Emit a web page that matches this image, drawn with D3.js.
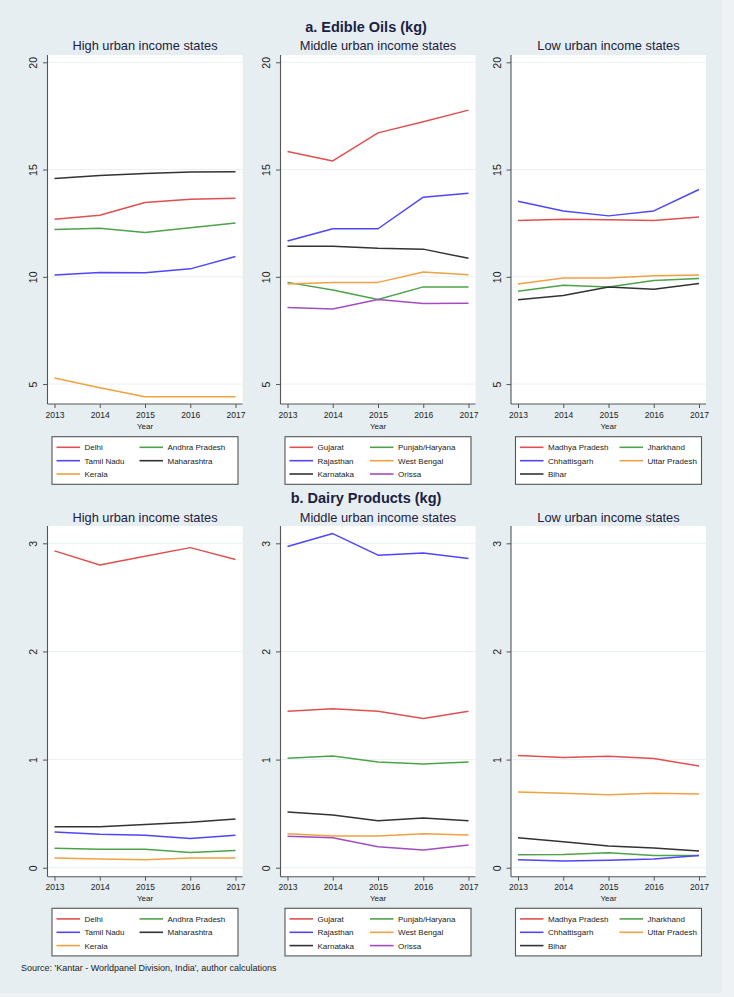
<!DOCTYPE html>
<html><head><meta charset="utf-8">
<script src="https://cdn.jsdelivr.net/npm/d3@7"></script>
<style>
body{margin:0;background:#eef2f4;}
svg{display:block;font-family:"Liberation Sans",Arial,sans-serif;}
</style>
</head><body><svg id="chart" width="734" height="997"></svg>
<script>
// ---------------- data ----------------
const years = [2013, 2014, 2015, 2016, 2017];
const groupTitles = ["High urban income states", "Middle urban income states", "Low urban income states"];
const sectionTitles = ["a. Edible Oils (kg)", "b. Dairy Products (kg)"];
const sourceNote = "Source: 'Kantar - Worldpanel Division, India', author calculations";

const highStates = ["Delhi", "Andhra Pradesh", "Tamil Nadu", "Maharashtra", "Kerala"];
const middleStates = ["Gujarat", "Punjab/Haryana", "Rajasthan", "West Bengal", "Karnataka", "Orissa"];
const lowStates = ["Madhya Pradesh", "Jharkhand", "Chhattisgarh", "Uttar Pradesh", "Bihar"];

// Edible oils (kg), rows follow the state arrays above
const oilsHigh = [
  [12.68, 12.87, 13.46, 13.61, 13.66],
  [12.21, 12.26, 12.07, 12.29, 12.51],
  [10.08, 10.20, 10.19, 10.37, 10.95],
  [14.58, 14.72, 14.81, 14.89, 14.90],
  [5.28, 4.83, 4.41, 4.41, 4.41]
];
const oilsMiddle = [
  [15.84, 15.40, 16.71, 17.23, 17.77],
  [9.74, 9.38, 8.94, 9.53, 9.52],
  [11.67, 12.24, 12.24, 13.71, 13.89],
  [9.66, 9.74, 9.74, 10.22, 10.09],
  [11.42, 11.42, 11.33, 11.29, 10.86],
  [8.57, 8.50, 8.94, 8.75, 8.77]
];
const oilsLow = [
  [12.63, 12.68, 12.66, 12.62, 12.79],
  [9.33, 9.61, 9.52, 9.83, 9.92],
  [13.52, 13.07, 12.84, 13.07, 14.07],
  [9.66, 9.94, 9.94, 10.05, 10.08],
  [8.93, 9.13, 9.52, 9.42, 9.69]
];

// Dairy products (kg)
const dairyHigh = [
  [2.93, 2.80, 2.88, 2.96, 2.85],
  [0.18, 0.17, 0.17, 0.14, 0.16],
  [0.33, 0.31, 0.30, 0.27, 0.30],
  [0.38, 0.38, 0.40, 0.42, 0.45],
  [0.09, 0.08, 0.074, 0.09, 0.09]
];
const dairyMiddle = [
  [1.447, 1.47, 1.447, 1.38, 1.447],
  [1.012, 1.034, 0.978, 0.96, 0.978],
  [2.97, 3.09, 2.89, 2.91, 2.86],
  [0.315, 0.293, 0.293, 0.315, 0.302],
  [0.515, 0.488, 0.435, 0.46, 0.435],
  [0.29, 0.278, 0.194, 0.163, 0.21]
];
const dairyLow = [
  [1.037, 1.02, 1.03, 1.01, 0.94],
  [0.12, 0.123, 0.139, 0.114, 0.114],
  [0.074, 0.062, 0.068, 0.08, 0.114],
  [0.70, 0.688, 0.675, 0.688, 0.682],
  [0.278, 0.24, 0.20, 0.182, 0.154]
];

const oilTicks = [5, 10, 15, 20];
const dairyTicks = [0, 1, 2, 3];

// ---------------- styles ----------------
const RED = "#e05050", GREEN = "#4ea24a", BLUE = "#4f45ff", BLACK = "#333333", ORANGE = "#f0a142", PURPLE = "#a24cc2";
const highColors = [RED, GREEN, BLUE, BLACK, ORANGE];
const middleColors = [RED, GREEN, BLUE, ORANGE, BLACK, PURPLE];
const lowColors = [RED, GREEN, BLUE, ORANGE, BLACK];

const groups = [
  {states: highStates, colors: highColors, left: 47.5, col2: 87.5},
  {states: middleStates, colors: middleColors, left: 280.5, col2: 85},
  {states: lowStates, colors: lowColors, left: 511, col2: 104}
];
const plotW = 195;

const sections = [
  {title: sectionTitles[0], titleY: 32, subY: 50, top: 55, bottom: 404, domain: [4.07, 20.34], ticks: oilTicks,
   data: [oilsHigh, oilsMiddle, oilsLow], yearLabelY: 418, yearTitleY: 428.5, legendTop: 436.7},
  {title: sectionTitles[1], titleY: 502.5, subY: 522, top: 526, bottom: 876.7, domain: [-0.083, 3.16], ticks: dairyTicks,
   data: [dairyHigh, dairyMiddle, dairyLow], yearLabelY: 890.5, yearTitleY: 900.5, legendTop: 908.3}
];

const svg = d3.select("#chart");
svg.append("rect").attr("x", 0).attr("y", 0).attr("width", 722).attr("height", 993).attr("fill", "#e6eef1");

const textColor = "#1c2142";

sections.forEach(sec => {
  svg.append("text").attr("x", 366).attr("y", sec.titleY).attr("text-anchor", "middle")
    .attr("font-size", "14.5px").attr("font-weight", "bold").attr("fill", textColor).text(sec.title);

  const y = d3.scaleLinear().domain(sec.domain).range([sec.bottom, sec.top]);

  groups.forEach((g, gi) => {
    const left = g.left, right = left + plotW;
    const x = d3.scaleLinear().domain([2013, 2017]).range([left + 7, right - 7]);
    const cx = (left + right) / 2;

    svg.append("text").attr("x", cx).attr("y", sec.subY).attr("text-anchor", "middle")
      .attr("font-size", "12.8px").attr("fill", textColor).text(groupTitles[gi]);

    // plot region
    svg.append("rect").attr("x", left).attr("y", sec.top).attr("width", plotW).attr("height", sec.bottom - sec.top)
      .attr("fill", "#ffffff");

    // gridlines
    svg.append("g").selectAll("line").data(sec.ticks).join("line")
      .attr("x1", left).attr("x2", right).attr("y1", d => y(d)).attr("y2", d => y(d))
      .attr("stroke", "#eaf0f3").attr("stroke-width", 1);

    // y axis
    const ya = svg.append("g").attr("transform", `translate(${left},0)`)
      .call(d3.axisLeft(y).tickValues(sec.ticks).tickSize(4.5).tickSizeOuter(0).tickFormat(d3.format("d")));
    ya.select(".domain").attr("stroke", "#555").attr("stroke-width", 1.1)
      .attr("d", `M0,${sec.top}V${sec.bottom}`);
    ya.selectAll(".tick line").attr("stroke", "#555");
    ya.selectAll(".tick text").attr("x", null).attr("dy", null).attr("text-anchor", "middle")
      .attr("transform", "translate(-10.5,0) rotate(-90)")
      .attr("font-size", "10.5px").attr("fill", "#222").attr("font-family", null);

    // x axis
    const xa = svg.append("g").attr("transform", `translate(0,${sec.bottom})`)
      .call(d3.axisBottom(x).tickValues(years).tickSize(4).tickSizeOuter(0).tickFormat(d3.format("d")));
    xa.select(".domain").attr("stroke", "#555").attr("stroke-width", 1.1).attr("d", `M${left},0H${right}`);
    xa.selectAll(".tick line").attr("stroke", "#555");
    xa.selectAll(".tick text").attr("y", sec.yearLabelY - sec.bottom).attr("dy", null)
      .attr("font-size", "8.5px").attr("fill", "#222").attr("font-family", null);

    svg.append("text").attr("x", cx).attr("y", sec.yearTitleY).attr("text-anchor", "middle")
      .attr("font-size", "8px").attr("fill", "#222").text("Year");

    // lines
    const line = d3.line().x((d, i) => x(years[i])).y(d => y(d));
    svg.append("g").selectAll("path").data(sec.data[gi]).join("path")
      .attr("d", line).attr("fill", "none")
      .attr("stroke", (d, i) => g.colors[i]).attr("stroke-width", 1.5).attr("stroke-linejoin", "round");

    // legend
    const bw = 186, bh = 47.6;
    const bx = cx - bw / 2, by = sec.legendTop;
    const lg = svg.append("g").attr("transform", `translate(${bx},${by})`);
    lg.append("rect").attr("x", 0).attr("y", 0).attr("width", bw).attr("height", bh)
      .attr("fill", "#fff").attr("stroke", "#555").attr("stroke-width", 1.1);
    const rowY = [10.6, 24, 37.3];
    g.states.forEach((s, i) => {
      const col = i % 2, row = Math.floor(i / 2);
      const lx = col === 0 ? 4.5 : g.col2;
      lg.append("line").attr("x1", lx).attr("x2", lx + 23.5).attr("y1", rowY[row]).attr("y2", rowY[row])
        .attr("stroke", g.colors[i]).attr("stroke-width", 1.6);
      lg.append("text").attr("x", lx + 28).attr("y", rowY[row] + 3).attr("font-size", "8px")
        .attr("fill", "#222").text(s);
    });
  });
});

svg.append("text").attr("x", 21).attr("y", 971).attr("font-size", "9px").attr("fill", "#222").text(sourceNote);
</script>
</body></html>
